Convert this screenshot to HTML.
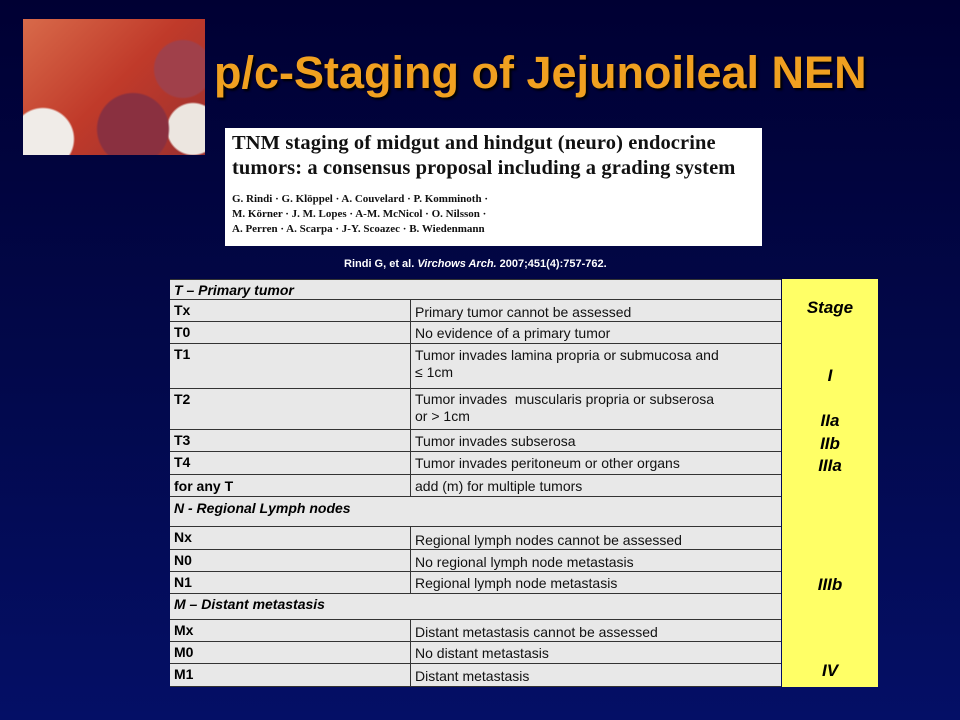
<!DOCTYPE html>
<html><head><meta charset="utf-8"><style>
body{margin:0;width:960px;height:720px;overflow:hidden;font-family:"Liberation Sans",sans-serif}
#slide{position:relative;width:960px;height:720px;background:linear-gradient(#000033 0%,#02084a 50%,#040f66 100%)}
.abs{position:absolute}
.row{position:absolute;left:170px;width:611px;background:#e8e8e8;border-bottom:1px solid #333;box-sizing:border-box}
.c1{position:absolute;left:4px;font-weight:bold;font-size:14px;color:#000}
.c2{position:absolute;left:245px;font-size:14px;color:#111;line-height:17px;width:360px}
.div{position:absolute;left:240px;top:0;bottom:0;border-left:1px solid #333}
.st{position:absolute;width:96px;text-align:center;font-weight:bold;font-style:italic;font-size:17px;color:#000}
</style></head><body>
<div id="slide">
<div class="abs" style="left:23px;top:19px;width:182px;height:136px;background:radial-gradient(circle at 160px 50px,#a0404a 0 28px,transparent 30px),radial-gradient(circle at 110px 110px,#8a3040 0 35px,transparent 37px),radial-gradient(circle at 20px 120px,#f0ece8 0 30px,transparent 32px),radial-gradient(circle at 170px 110px,#ece6e0 0 25px,transparent 27px),linear-gradient(135deg,#d86a4a,#c03a2a 50%,#9a3030)"></div>
<div class="abs" style="left:214px;top:47px;font-size:45px;font-weight:bold;color:#f0a020;text-shadow:2px 2px 2px #000;white-space:nowrap">p/c-Staging of Jejunoileal NEN</div>
<div class="abs" style="left:225px;top:128px;width:537px;height:118px;background:#fff;font-family:'Liberation Serif',serif;color:#111;overflow:hidden">
<div style="position:absolute;left:7px;top:3px;font-size:20.5px;font-weight:bold;line-height:25px;letter-spacing:0.1px;white-space:nowrap">TNM staging of midgut and hindgut (neuro) endocrine<br>tumors: a consensus proposal including a grading system</div>
<div style="position:absolute;left:7px;top:64px;font-size:11px;font-weight:bold;line-height:15px;white-space:nowrap">G. Rindi · G. Klöppel · A. Couvelard · P. Komminoth ·<br>M. Körner · J. M. Lopes · A-M. McNicol · O. Nilsson ·<br>A. Perren · A. Scarpa · J-Y. Scoazec · B. Wiedenmann</div>
</div>
<div class="abs" style="left:344px;top:258px;font-size:11px;font-weight:bold;color:#fff">Rindi G, et al. <i>Virchows Arch.</i> 2007;451(4):757-762.</div>

<div class="row" style="top:279px;height:21px;border-top:1px solid #333"><span class="c1" style="top:2px;font-style:italic">T – Primary tumor</span></div>
<div class="row" style="top:300px;height:22px"><div class="div"></div><span class="c1" style="top:2px">Tx</span><span class="c2" style="top:4px">Primary tumor cannot be assessed</span></div>
<div class="row" style="top:322px;height:22px"><div class="div"></div><span class="c1" style="top:2px">T0</span><span class="c2" style="top:3px">No evidence of a primary tumor</span></div>
<div class="row" style="top:344px;height:45px"><div class="div"></div><span class="c1" style="top:2px">T1</span><span class="c2" style="top:3px">Tumor invades lamina propria or submucosa and<br>≤ 1cm</span></div>
<div class="row" style="top:389px;height:41px"><div class="div"></div><span class="c1" style="top:2px">T2</span><span class="c2" style="top:2px">Tumor invades &nbsp;muscularis propria or subserosa<br>or &gt; 1cm</span></div>
<div class="row" style="top:430px;height:22px"><div class="div"></div><span class="c1" style="top:2px">T3</span><span class="c2" style="top:3px">Tumor invades subserosa</span></div>
<div class="row" style="top:452px;height:23px"><div class="div"></div><span class="c1" style="top:2px">T4</span><span class="c2" style="top:3px">Tumor invades peritoneum or other organs</span></div>
<div class="row" style="top:475px;height:22px"><div class="div"></div><span class="c1" style="top:3px">for any T</span><span class="c2" style="top:3px">add (m) for multiple tumors</span></div>
<div class="row" style="top:497px;height:30px"><span class="c1" style="top:3px;font-style:italic">N - Regional Lymph nodes</span></div>
<div class="row" style="top:527px;height:23px"><div class="div"></div><span class="c1" style="top:2px">Nx</span><span class="c2" style="top:5px">Regional lymph nodes cannot be assessed</span></div>
<div class="row" style="top:550px;height:22px"><div class="div"></div><span class="c1" style="top:2px">N0</span><span class="c2" style="top:4px">No regional lymph node metastasis</span></div>
<div class="row" style="top:572px;height:22px"><div class="div"></div><span class="c1" style="top:2px">N1</span><span class="c2" style="top:3px">Regional lymph node metastasis</span></div>
<div class="row" style="top:594px;height:26px"><span class="c1" style="top:2px;font-style:italic">M – Distant metastasis</span></div>
<div class="row" style="top:620px;height:22px"><div class="div"></div><span class="c1" style="top:2px">Mx</span><span class="c2" style="top:4px">Distant metastasis cannot be assessed</span></div>
<div class="row" style="top:642px;height:22px"><div class="div"></div><span class="c1" style="top:2px">M0</span><span class="c2" style="top:3px">No distant metastasis</span></div>
<div class="row" style="top:664px;height:23px"><div class="div"></div><span class="c1" style="top:2px">M1</span><span class="c2" style="top:4px">Distant metastasis</span></div>

<div class="abs" style="left:782px;top:279px;width:96px;height:408px;background:#ffff66">
<div class="st" style="top:19px">Stage</div>
<div class="st" style="top:87px">I</div>
<div class="st" style="top:132px">IIa</div>
<div class="st" style="top:155px">IIb</div>
<div class="st" style="top:177px">IIIa</div>
<div class="st" style="top:296px">IIIb</div>
<div class="st" style="top:382px">IV</div>
</div>
</div>
</body></html>
